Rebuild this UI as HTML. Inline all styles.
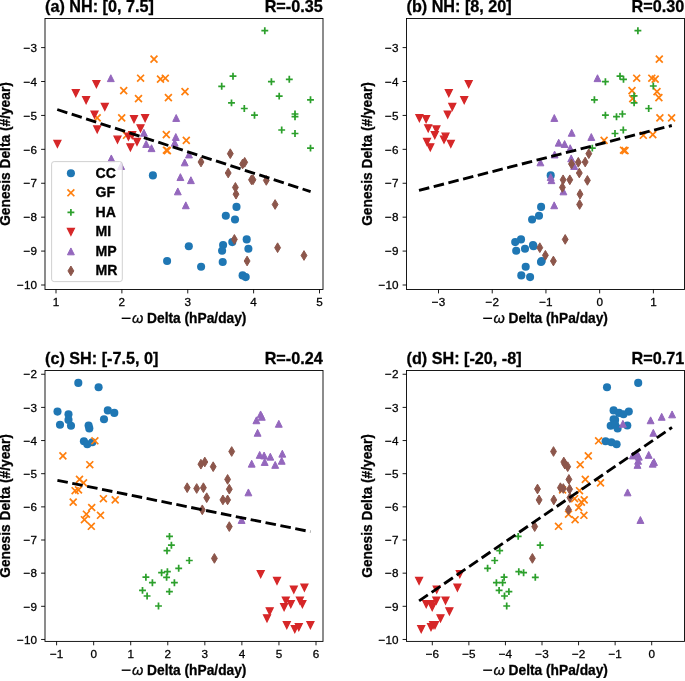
<!DOCTYPE html><html><head><meta charset="utf-8"><style>html,body{margin:0;padding:0;background:#fff;}svg{display:block;}text{font-family:"Liberation Sans",sans-serif;}</style></head><body>
<svg width="685" height="681" viewBox="0 0 685 681">
<rect width="685" height="681" fill="#fff"/>
<g fill="#1f77b4">
<circle cx="152.9" cy="175.4" r="4.05"/>
<circle cx="167.1" cy="261" r="4.05"/>
<circle cx="236.5" cy="206.9" r="4.05"/>
<circle cx="225.8" cy="215.8" r="4.05"/>
<circle cx="235" cy="219.5" r="4.05"/>
<circle cx="246.7" cy="239.4" r="4.05"/>
<circle cx="232.3" cy="242.1" r="4.05"/>
<circle cx="223.1" cy="245" r="4.05"/>
<circle cx="222.1" cy="250.7" r="4.05"/>
<circle cx="248.4" cy="248.7" r="4.05"/>
<circle cx="188.8" cy="246.2" r="4.05"/>
<circle cx="222.7" cy="262" r="4.05"/>
<circle cx="201.1" cy="266.8" r="4.05"/>
<circle cx="242.6" cy="275.4" r="4.05"/>
<circle cx="245.7" cy="277.1" r="4.05"/>
</g>
<g fill="none" stroke="#ff7f0e" stroke-width="1.72">
<path d="M150.56 55.66L157.44 62.54M150.56 62.54L157.44 55.66"/>
<path d="M137.16 74.76L144.04 81.64M137.16 81.64L144.04 74.76"/>
<path d="M157.06 75.66L163.94 82.54M157.06 82.54L163.94 75.66"/>
<path d="M161.86 74.76L168.74 81.64M161.86 81.64L168.74 74.76"/>
<path d="M120.26 87.16L127.14 94.04M120.26 94.04L127.14 87.16"/>
<path d="M135.06 95.16L141.94 102.04M135.06 102.04L141.94 95.16"/>
<path d="M164.96 94.16L171.84 101.04M164.96 101.04L171.84 94.16"/>
<path d="M181.56 88.16L188.44 95.04M181.56 95.04L188.44 88.16"/>
<path d="M118.26 114.46L125.14 121.34M118.26 121.34L125.14 114.46"/>
<path d="M93.76 114.46L100.64 121.34M93.76 121.34L100.64 114.46"/>
<path d="M123.06 131.86L129.94 138.74M123.06 138.74L129.94 131.86"/>
<path d="M162.86 131.16L169.74 138.04M162.86 138.04L169.74 131.16"/>
<path d="M162.96 146.76L169.84 153.64M162.96 153.64L169.84 146.76"/>
<path d="M163.96 147.16L170.84 154.04M163.96 154.04L170.84 147.16"/>
<path d="M182.86 136.96L189.74 143.84M182.86 143.84L189.74 136.96"/>
</g>
<g fill="none" stroke="#2ca02c" stroke-width="1.72">
<path d="M261.36 30.7H268.24M264.8 27.26V34.14"/>
<path d="M229.56 76.2H236.44M233 72.76V79.64"/>
<path d="M218.26 86.3H225.14M221.7 82.86V89.74"/>
<path d="M267.96 81.7H274.84M271.4 78.26V85.14"/>
<path d="M285.86 79.3H292.74M289.3 75.86V82.74"/>
<path d="M275.76 96.1H282.64M279.2 92.66V99.54"/>
<path d="M307.06 99.8H313.94M310.5 96.36V103.24"/>
<path d="M228.06 102.9H234.94M231.5 99.46V106.34"/>
<path d="M240.86 108.5H247.74M244.3 105.06V111.94"/>
<path d="M251.06 115.2H257.94M254.5 111.76V118.64"/>
<path d="M291.56 114H298.44M295 110.56V117.44"/>
<path d="M291.56 116.7H298.44M295 113.26V120.14"/>
<path d="M278.26 130H285.14M281.7 126.56V133.44"/>
<path d="M291.56 133.5H298.44M295 130.06V136.94"/>
<path d="M307.06 148.1H313.94M310.5 144.66V151.54"/>
</g>
<g fill="#d62728" stroke="#d62728" stroke-width="1.3" stroke-linejoin="miter">
<path d="M92.96 80.76L99.84 80.76L96.4 87.64Z"/>
<path d="M72.36 89.76L79.24 89.76L75.8 96.64Z"/>
<path d="M82.66 96.76L89.54 96.76L86.1 103.64Z"/>
<path d="M101.36 103.36L108.24 103.36L104.8 110.24Z"/>
<path d="M91.06 111.06L97.94 111.06L94.5 117.94Z"/>
<path d="M93.76 125.96L100.64 125.96L97.2 132.84Z"/>
<path d="M130.56 115.76L137.44 115.76L134 122.64Z"/>
<path d="M141.66 114.76L148.54 114.76L145.1 121.64Z"/>
<path d="M137.06 124.86L143.94 124.86L140.5 131.74Z"/>
<path d="M114.06 136.16L120.94 136.16L117.5 143.04Z"/>
<path d="M124.96 133.16L131.84 133.16L128.4 140.04Z"/>
<path d="M128.76 131.56L135.64 131.56L132.2 138.44Z"/>
<path d="M133.56 138.36L140.44 138.36L137 145.24Z"/>
<path d="M126.96 143.86L133.84 143.86L130.4 150.74Z"/>
<path d="M53.96 140.46L60.84 140.46L57.4 147.34Z"/>
</g>
<g fill="#9467bd" stroke="#9467bd" stroke-width="1.0" stroke-linejoin="miter">
<path d="M107.36 81.64L114.24 81.64L110.8 74.76Z"/>
<path d="M172.76 121.44L179.64 121.44L176.2 114.56Z"/>
<path d="M140.46 136.24L147.34 136.24L143.9 129.36Z"/>
<path d="M142.76 147.44L149.64 147.44L146.2 140.56Z"/>
<path d="M148.06 151.64L154.94 151.64L151.5 144.76Z"/>
<path d="M172.36 140.44L179.24 140.44L175.8 133.56Z"/>
<path d="M171.26 146.14L178.14 146.14L174.7 139.26Z"/>
<path d="M185.56 157.94L192.44 157.94L189 151.06Z"/>
<path d="M181.26 165.84L188.14 165.84L184.7 158.96Z"/>
<path d="M176.96 180.54L183.84 180.54L180.4 173.66Z"/>
<path d="M187.46 183.64L194.34 183.64L190.9 176.76Z"/>
<path d="M174.36 194.84L181.24 194.84L177.8 187.96Z"/>
<path d="M182.36 208.74L189.24 208.74L185.8 201.86Z"/>
<path d="M107.86 161.84L114.74 161.84L111.3 154.96Z"/>
<path d="M117.66 169.44L124.54 169.44L121.1 162.56Z"/>
</g>
<g fill="#8c564b" stroke="#8c564b" stroke-width="1.0" stroke-linejoin="round">
<path d="M230.3 148.84L233.22 153.7L230.3 158.56L227.38 153.7Z"/>
<path d="M201 157.14L203.92 162L201 166.86L198.08 162Z"/>
<path d="M242.6 159.14L245.52 164L242.6 168.86L239.68 164Z"/>
<path d="M244.7 157.44L247.62 162.3L244.7 167.16L241.78 162.3Z"/>
<path d="M228.2 168.14L231.12 173L228.2 177.86L225.28 173Z"/>
<path d="M251.5 174.94L254.42 179.8L251.5 184.66L248.58 179.8Z"/>
<path d="M253 174.94L255.92 179.8L253 184.66L250.08 179.8Z"/>
<path d="M266.3 175.54L269.22 180.4L266.3 185.26L263.38 180.4Z"/>
<path d="M235.4 182.54L238.32 187.4L235.4 192.26L232.48 187.4Z"/>
<path d="M236 189.34L238.92 194.2L236 199.06L233.08 194.2Z"/>
<path d="M275.1 199.64L278.02 204.5L275.1 209.36L272.18 204.5Z"/>
<path d="M234.4 234.54L237.32 239.4L234.4 244.26L231.48 239.4Z"/>
<path d="M277.6 242.84L280.52 247.7L277.6 252.56L274.68 247.7Z"/>
<path d="M304 250.64L306.92 255.5L304 260.36L301.08 255.5Z"/>
<path d="M247.1 256.14L250.02 261L247.1 265.86L244.18 261Z"/>
</g>
<path d="M57.25 109.5L310.6 191.6" stroke="#000" stroke-width="2.87" stroke-dasharray="10.6 4.57" fill="none"/>
<rect x="45.0" y="18.5" width="278" height="271" fill="none" stroke="#000" stroke-width="0.9"/>
<line x1="56" y1="289.5" x2="56" y2="293.4" stroke="#000" stroke-width="0.9"/>
<line x1="121.88" y1="289.5" x2="121.88" y2="293.4" stroke="#000" stroke-width="0.9"/>
<line x1="187.75" y1="289.5" x2="187.75" y2="293.4" stroke="#000" stroke-width="0.9"/>
<line x1="253.62" y1="289.5" x2="253.62" y2="293.4" stroke="#000" stroke-width="0.9"/>
<line x1="319.5" y1="289.5" x2="319.5" y2="293.4" stroke="#000" stroke-width="0.9"/>
<line x1="41.1" y1="47.6" x2="45" y2="47.6" stroke="#000" stroke-width="0.9"/>
<line x1="41.1" y1="81.51" x2="45" y2="81.51" stroke="#000" stroke-width="0.9"/>
<line x1="41.1" y1="115.43" x2="45" y2="115.43" stroke="#000" stroke-width="0.9"/>
<line x1="41.1" y1="149.34" x2="45" y2="149.34" stroke="#000" stroke-width="0.9"/>
<line x1="41.1" y1="183.26" x2="45" y2="183.26" stroke="#000" stroke-width="0.9"/>
<line x1="41.1" y1="217.17" x2="45" y2="217.17" stroke="#000" stroke-width="0.9"/>
<line x1="41.1" y1="251.09" x2="45" y2="251.09" stroke="#000" stroke-width="0.9"/>
<line x1="41.1" y1="285" x2="45" y2="285" stroke="#000" stroke-width="0.9"/>
<rect x="121.7" y="317.6" width="8.9" height="1.4" fill="#000"/>
<g fill="#1f77b4">
<circle cx="550.7" cy="175.4" r="4.05"/>
<circle cx="541.1" cy="206.9" r="4.05"/>
<circle cx="539" cy="215.8" r="4.05"/>
<circle cx="532.1" cy="219.5" r="4.05"/>
<circle cx="521" cy="239.4" r="4.05"/>
<circle cx="515.2" cy="242.1" r="4.05"/>
<circle cx="533" cy="245" r="4.05"/>
<circle cx="533.5" cy="246.2" r="4.05"/>
<circle cx="525" cy="248.7" r="4.05"/>
<circle cx="516.2" cy="250.7" r="4.05"/>
<circle cx="541.7" cy="261" r="4.05"/>
<circle cx="541" cy="262" r="4.05"/>
<circle cx="525.7" cy="266.8" r="4.05"/>
<circle cx="521.3" cy="275.4" r="4.05"/>
<circle cx="530.1" cy="277.1" r="4.05"/>
</g>
<g fill="none" stroke="#ff7f0e" stroke-width="1.72">
<path d="M655.86 55.66L662.74 62.54M655.86 62.54L662.74 55.66"/>
<path d="M633.26 74.76L640.14 81.64M633.26 81.64L640.14 74.76"/>
<path d="M648.36 74.76L655.24 81.64M648.36 81.64L655.24 74.76"/>
<path d="M651.76 75.66L658.64 82.54M651.76 82.54L658.64 75.66"/>
<path d="M628.56 87.16L635.44 94.04M628.56 94.04L635.44 87.16"/>
<path d="M653.56 88.16L660.44 95.04M653.56 95.04L660.44 88.16"/>
<path d="M629.26 95.16L636.14 102.04M629.26 102.04L636.14 95.16"/>
<path d="M655.46 94.16L662.34 101.04M655.46 101.04L662.34 94.16"/>
<path d="M656.46 114.46L663.34 121.34M656.46 121.34L663.34 114.46"/>
<path d="M668.16 114.46L675.04 121.34M668.16 121.34L675.04 114.46"/>
<path d="M639.86 131.86L646.74 138.74M639.86 138.74L646.74 131.86"/>
<path d="M649.36 131.16L656.24 138.04M649.36 138.04L656.24 131.16"/>
<path d="M600.66 136.96L607.54 143.84M600.66 143.84L607.54 136.96"/>
<path d="M620.06 146.76L626.94 153.64M620.06 153.64L626.94 146.76"/>
<path d="M621.56 147.16L628.44 154.04M621.56 154.04L628.44 147.16"/>
</g>
<g fill="none" stroke="#2ca02c" stroke-width="1.72">
<path d="M634.46 30.7H641.34M637.9 27.26V34.14"/>
<path d="M616.56 76.2H623.44M620 72.76V79.64"/>
<path d="M620.06 79.3H626.94M623.5 75.86V82.74"/>
<path d="M601.96 81.7H608.84M605.4 78.26V85.14"/>
<path d="M649.86 86H656.74M653.3 82.56V89.44"/>
<path d="M590.96 99.8H597.84M594.4 96.36V103.24"/>
<path d="M630.66 95.9H637.54M634.1 92.46V99.34"/>
<path d="M630.66 102.8H637.54M634.1 99.36V106.24"/>
<path d="M645.26 108.5H652.14M648.7 105.06V111.94"/>
<path d="M601.96 115.2H608.84M605.4 111.76V118.64"/>
<path d="M613.06 116.7H619.94M616.5 113.26V120.14"/>
<path d="M618.96 114H625.84M622.4 110.56V117.44"/>
<path d="M619.86 130H626.74M623.3 126.56V133.44"/>
<path d="M611.56 133.5H618.44M615 130.06V136.94"/>
<path d="M588.86 148.1H595.74M592.3 144.66V151.54"/>
</g>
<g fill="#d62728" stroke="#d62728" stroke-width="1.3" stroke-linejoin="miter">
<path d="M465.26 80.76L472.14 80.76L468.7 87.64Z"/>
<path d="M445.36 89.76L452.24 89.76L448.8 96.64Z"/>
<path d="M460.76 96.76L467.64 96.76L464.2 103.64Z"/>
<path d="M448.86 103.36L455.74 103.36L452.3 110.24Z"/>
<path d="M444.26 111.06L451.14 111.06L447.7 117.94Z"/>
<path d="M415.96 114.76L422.84 114.76L419.4 121.64Z"/>
<path d="M422.66 115.76L429.54 115.76L426.1 122.64Z"/>
<path d="M424.76 124.86L431.64 124.86L428.2 131.74Z"/>
<path d="M432.96 125.96L439.84 125.96L436.4 132.84Z"/>
<path d="M431.36 131.56L438.24 131.56L434.8 138.44Z"/>
<path d="M442.06 133.16L448.94 133.16L445.5 140.04Z"/>
<path d="M440.56 136.16L447.44 136.16L444 143.04Z"/>
<path d="M447.36 140.36L454.24 140.36L450.8 147.24Z"/>
<path d="M423.56 138.36L430.44 138.36L427 145.24Z"/>
<path d="M426.86 143.86L433.74 143.86L430.3 150.74Z"/>
</g>
<g fill="#9467bd" stroke="#9467bd" stroke-width="1.0" stroke-linejoin="miter">
<path d="M594.06 81.64L600.94 81.64L597.5 74.76Z"/>
<path d="M550.86 121.44L557.74 121.44L554.3 114.56Z"/>
<path d="M568.26 136.24L575.14 136.24L571.7 129.36Z"/>
<path d="M587.86 140.44L594.74 140.44L591.3 133.56Z"/>
<path d="M555.26 146.14L562.14 146.14L558.7 139.26Z"/>
<path d="M561.16 147.44L568.04 147.44L564.6 140.56Z"/>
<path d="M566.76 151.64L573.64 151.64L570.2 144.76Z"/>
<path d="M551.16 157.94L558.04 157.94L554.6 151.06Z"/>
<path d="M567.76 161.84L574.64 161.84L571.2 154.96Z"/>
<path d="M536.96 165.84L543.84 165.84L540.4 158.96Z"/>
<path d="M570.76 169.44L577.64 169.44L574.2 162.56Z"/>
<path d="M547.26 180.54L554.14 180.54L550.7 173.66Z"/>
<path d="M547.96 183.64L554.84 183.64L551.4 176.76Z"/>
<path d="M559.96 194.84L566.84 194.84L563.4 187.96Z"/>
<path d="M550.76 208.74L557.64 208.74L554.2 201.86Z"/>
</g>
<g fill="#8c564b" stroke="#8c564b" stroke-width="1.0" stroke-linejoin="round">
<path d="M588.8 148.84L591.72 153.7L588.8 158.56L585.88 153.7Z"/>
<path d="M585.2 157.14L588.12 162L585.2 166.86L582.28 162Z"/>
<path d="M578.3 157.44L581.22 162.3L578.3 167.16L575.38 162.3Z"/>
<path d="M571.5 159.14L574.42 164L571.5 168.86L568.58 164Z"/>
<path d="M579.3 168.14L582.22 173L579.3 177.86L576.38 173Z"/>
<path d="M563.1 174.94L566.02 179.8L563.1 184.66L560.18 179.8Z"/>
<path d="M569.8 174.94L572.72 179.8L569.8 184.66L566.88 179.8Z"/>
<path d="M587.4 175.54L590.32 180.4L587.4 185.26L584.48 180.4Z"/>
<path d="M562.4 182.54L565.32 187.4L562.4 192.26L559.48 187.4Z"/>
<path d="M580 189.34L582.92 194.2L580 199.06L577.08 194.2Z"/>
<path d="M579.6 199.64L582.52 204.5L579.6 209.36L576.68 204.5Z"/>
<path d="M565.2 234.54L568.12 239.4L565.2 244.26L562.28 239.4Z"/>
<path d="M539.8 242.84L542.72 247.7L539.8 252.56L536.88 247.7Z"/>
<path d="M545.4 250.44L548.32 255.3L545.4 260.16L542.48 255.3Z"/>
<path d="M553.4 256.14L556.32 261L553.4 265.86L550.48 261Z"/>
</g>
<path d="M419 190.4L671.8 125.5" stroke="#000" stroke-width="2.87" stroke-dasharray="10.6 4.57" fill="none"/>
<rect x="406.5" y="18.5" width="278" height="271" fill="none" stroke="#000" stroke-width="0.9"/>
<line x1="438.5" y1="289.5" x2="438.5" y2="293.4" stroke="#000" stroke-width="0.9"/>
<line x1="492.23" y1="289.5" x2="492.23" y2="293.4" stroke="#000" stroke-width="0.9"/>
<line x1="545.95" y1="289.5" x2="545.95" y2="293.4" stroke="#000" stroke-width="0.9"/>
<line x1="599.67" y1="289.5" x2="599.67" y2="293.4" stroke="#000" stroke-width="0.9"/>
<line x1="653.4" y1="289.5" x2="653.4" y2="293.4" stroke="#000" stroke-width="0.9"/>
<line x1="402.6" y1="47.6" x2="406.5" y2="47.6" stroke="#000" stroke-width="0.9"/>
<line x1="402.6" y1="81.51" x2="406.5" y2="81.51" stroke="#000" stroke-width="0.9"/>
<line x1="402.6" y1="115.43" x2="406.5" y2="115.43" stroke="#000" stroke-width="0.9"/>
<line x1="402.6" y1="149.34" x2="406.5" y2="149.34" stroke="#000" stroke-width="0.9"/>
<line x1="402.6" y1="183.26" x2="406.5" y2="183.26" stroke="#000" stroke-width="0.9"/>
<line x1="402.6" y1="217.17" x2="406.5" y2="217.17" stroke="#000" stroke-width="0.9"/>
<line x1="402.6" y1="251.09" x2="406.5" y2="251.09" stroke="#000" stroke-width="0.9"/>
<line x1="402.6" y1="285" x2="406.5" y2="285" stroke="#000" stroke-width="0.9"/>
<rect x="483.2" y="317.6" width="8.9" height="1.4" fill="#000"/>
<g fill="#1f77b4">
<circle cx="78.3" cy="382.9" r="4.05"/>
<circle cx="98.6" cy="387.3" r="4.05"/>
<circle cx="57.5" cy="411.6" r="4.05"/>
<circle cx="68.5" cy="414.3" r="4.05"/>
<circle cx="68.5" cy="419.9" r="4.05"/>
<circle cx="60" cy="424.8" r="4.05"/>
<circle cx="71" cy="425.8" r="4.05"/>
<circle cx="107.8" cy="410.4" r="4.05"/>
<circle cx="114.3" cy="412.9" r="4.05"/>
<circle cx="104" cy="419.2" r="4.05"/>
<circle cx="88.6" cy="425.5" r="4.05"/>
<circle cx="89.3" cy="428.4" r="4.05"/>
<circle cx="83.9" cy="441.2" r="4.05"/>
<circle cx="87.3" cy="444.2" r="4.05"/>
<circle cx="92.3" cy="442.2" r="4.05"/>
</g>
<g fill="none" stroke="#ff7f0e" stroke-width="1.72">
<path d="M91.46 437.36L98.34 444.24M91.46 444.24L98.34 437.36"/>
<path d="M59.46 452.46L66.34 459.34M59.46 459.34L66.34 452.46"/>
<path d="M86.36 461.26L93.24 468.14M86.36 468.14L93.24 461.26"/>
<path d="M76.06 475.96L82.94 482.84M76.06 482.84L82.94 475.96"/>
<path d="M80.06 479.46L86.94 486.34M80.06 486.34L86.94 479.46"/>
<path d="M71.66 487.26L78.54 494.14M71.66 494.14L78.54 487.26"/>
<path d="M75.06 486.46L81.94 493.34M75.06 493.34L81.94 486.46"/>
<path d="M69.76 498.66L76.64 505.54M69.76 505.54L76.64 498.66"/>
<path d="M99.96 495.26L106.84 502.14M99.96 502.14L106.84 495.26"/>
<path d="M111.76 496.46L118.64 503.34M111.76 503.34L118.64 496.46"/>
<path d="M88.26 504.06L95.14 510.94M88.26 510.94L95.14 504.06"/>
<path d="M82.96 510.76L89.84 517.64M82.96 517.64L89.84 510.76"/>
<path d="M97.06 511.86L103.94 518.74M97.06 518.74L103.94 511.86"/>
<path d="M80.96 516.26L87.84 523.14M80.96 523.14L87.84 516.26"/>
<path d="M87.86 522.86L94.74 529.74M87.86 529.74L94.74 522.86"/>
</g>
<g fill="none" stroke="#2ca02c" stroke-width="1.72">
<path d="M166.06 536.4H172.94M169.5 532.96V539.84"/>
<path d="M167.96 545.2H174.84M171.4 541.76V548.64"/>
<path d="M163.56 550.7H170.44M167 547.26V554.14"/>
<path d="M185.86 560.5H192.74M189.3 557.06V563.94"/>
<path d="M175.26 568.3H182.14M178.7 564.86V571.74"/>
<path d="M158.16 572.7H165.04M161.6 569.26V576.14"/>
<path d="M163.96 571.7H170.84M167.4 568.26V575.14"/>
<path d="M163.16 577.3H170.04M166.6 573.86V580.74"/>
<path d="M142.46 577.2H149.34M145.9 573.76V580.64"/>
<path d="M148.96 582.7H155.84M152.4 579.26V586.14"/>
<path d="M170.96 582.7H177.84M174.4 579.26V586.14"/>
<path d="M139.06 590.4H145.94M142.5 586.96V593.84"/>
<path d="M143.66 596H150.54M147.1 592.56V599.44"/>
<path d="M165.96 591.6H172.84M169.4 588.16V595.04"/>
<path d="M155.06 606H161.94M158.5 602.56V609.44"/>
</g>
<g fill="#d62728" stroke="#d62728" stroke-width="1.3" stroke-linejoin="miter">
<path d="M257.26 570.76L264.14 570.76L260.7 577.64Z"/>
<path d="M273.56 577.46L280.44 577.46L277 584.34Z"/>
<path d="M290.36 586.06L297.24 586.06L293.8 592.94Z"/>
<path d="M300.96 584.06L307.84 584.06L304.4 590.94Z"/>
<path d="M282.36 597.06L289.24 597.06L285.8 603.94Z"/>
<path d="M287.36 600.76L294.24 600.76L290.8 607.64Z"/>
<path d="M280.66 603.76L287.54 603.76L284.1 610.64Z"/>
<path d="M296.46 597.06L303.34 597.06L299.9 603.94Z"/>
<path d="M298.96 600.76L305.84 600.76L302.4 607.64Z"/>
<path d="M266.26 607.86L273.14 607.86L269.7 614.74Z"/>
<path d="M263.56 614.86L270.44 614.86L267 621.74Z"/>
<path d="M283.36 621.56L290.24 621.56L286.8 628.44Z"/>
<path d="M291.36 625.56L298.24 625.56L294.8 632.44Z"/>
<path d="M295.36 623.76L302.24 623.76L298.8 630.64Z"/>
<path d="M306.96 621.56L313.84 621.56L310.4 628.44Z"/>
</g>
<g fill="#9467bd" stroke="#9467bd" stroke-width="1.0" stroke-linejoin="miter">
<path d="M257.16 417.84L264.04 417.84L260.6 410.96Z"/>
<path d="M258.36 420.24L265.24 420.24L261.8 413.36Z"/>
<path d="M252.96 423.74L259.84 423.74L256.4 416.86Z"/>
<path d="M275.36 427.24L282.24 427.24L278.8 420.36Z"/>
<path d="M254.16 436.24L261.04 436.24L257.6 429.36Z"/>
<path d="M256.26 458.34L263.14 458.34L259.7 451.46Z"/>
<path d="M260.66 458.94L267.54 458.94L264.1 452.06Z"/>
<path d="M261.26 465.44L268.14 465.44L264.7 458.56Z"/>
<path d="M266.86 460.14L273.74 460.14L270.3 453.26Z"/>
<path d="M278.86 457.14L285.74 457.14L282.3 450.26Z"/>
<path d="M278.26 464.24L285.14 464.24L281.7 457.36Z"/>
<path d="M248.26 467.14L255.14 467.14L251.7 460.26Z"/>
<path d="M271.76 468.34L278.64 468.34L275.2 461.46Z"/>
<path d="M244.96 495.84L251.84 495.84L248.4 488.96Z"/>
<path d="M238.16 523.44L245.04 523.44L241.6 516.56Z"/>
</g>
<g fill="#8c564b" stroke="#8c564b" stroke-width="1.0" stroke-linejoin="round">
<path d="M231.7 446.64L234.62 451.5L231.7 456.36L228.78 451.5Z"/>
<path d="M200.9 459.34L203.82 464.2L200.9 469.06L197.98 464.2Z"/>
<path d="M204.8 457.14L207.72 462L204.8 466.86L201.88 462Z"/>
<path d="M213.2 461.84L216.12 466.7L213.2 471.56L210.28 466.7Z"/>
<path d="M227.6 474.54L230.52 479.4L227.6 484.26L224.68 479.4Z"/>
<path d="M229.3 484.34L232.22 489.2L229.3 494.06L226.38 489.2Z"/>
<path d="M187.2 482.84L190.12 487.7L187.2 492.56L184.28 487.7Z"/>
<path d="M196.7 483.64L199.62 488.5L196.7 493.36L193.78 488.5Z"/>
<path d="M203.4 482.84L206.32 487.7L203.4 492.56L200.48 487.7Z"/>
<path d="M206.7 492.84L209.62 497.7L206.7 502.56L203.78 497.7Z"/>
<path d="M222.9 495.04L225.82 499.9L222.9 504.76L219.98 499.9Z"/>
<path d="M227.6 495.04L230.52 499.9L227.6 504.76L224.68 499.9Z"/>
<path d="M202.3 504.94L205.22 509.8L202.3 514.66L199.38 509.8Z"/>
<path d="M229.3 521.74L232.22 526.6L229.3 531.46L226.38 526.6Z"/>
<path d="M214.4 553.54L217.32 558.4L214.4 563.26L211.48 558.4Z"/>
</g>
<path d="M57.4 480.3L310.4 531.7" stroke="#000" stroke-width="2.87" stroke-dasharray="10.6 4.57" fill="none"/>
<rect x="45.0" y="370.5" width="278" height="270.9" fill="none" stroke="#000" stroke-width="0.9"/>
<line x1="56.6" y1="641.4" x2="56.6" y2="645.3" stroke="#000" stroke-width="0.9"/>
<line x1="93.66" y1="641.4" x2="93.66" y2="645.3" stroke="#000" stroke-width="0.9"/>
<line x1="130.71" y1="641.4" x2="130.71" y2="645.3" stroke="#000" stroke-width="0.9"/>
<line x1="167.77" y1="641.4" x2="167.77" y2="645.3" stroke="#000" stroke-width="0.9"/>
<line x1="204.83" y1="641.4" x2="204.83" y2="645.3" stroke="#000" stroke-width="0.9"/>
<line x1="241.89" y1="641.4" x2="241.89" y2="645.3" stroke="#000" stroke-width="0.9"/>
<line x1="278.94" y1="641.4" x2="278.94" y2="645.3" stroke="#000" stroke-width="0.9"/>
<line x1="316" y1="641.4" x2="316" y2="645.3" stroke="#000" stroke-width="0.9"/>
<line x1="41.1" y1="374.25" x2="45" y2="374.25" stroke="#000" stroke-width="0.9"/>
<line x1="41.1" y1="407.4" x2="45" y2="407.4" stroke="#000" stroke-width="0.9"/>
<line x1="41.1" y1="440.55" x2="45" y2="440.55" stroke="#000" stroke-width="0.9"/>
<line x1="41.1" y1="473.7" x2="45" y2="473.7" stroke="#000" stroke-width="0.9"/>
<line x1="41.1" y1="506.86" x2="45" y2="506.86" stroke="#000" stroke-width="0.9"/>
<line x1="41.1" y1="540.01" x2="45" y2="540.01" stroke="#000" stroke-width="0.9"/>
<line x1="41.1" y1="573.16" x2="45" y2="573.16" stroke="#000" stroke-width="0.9"/>
<line x1="41.1" y1="606.31" x2="45" y2="606.31" stroke="#000" stroke-width="0.9"/>
<line x1="41.1" y1="639.46" x2="45" y2="639.46" stroke="#000" stroke-width="0.9"/>
<rect x="121.7" y="669.5" width="8.9" height="1.4" fill="#000"/>
<g fill="#1f77b4">
<circle cx="638.2" cy="382.9" r="4.05"/>
<circle cx="607" cy="387.3" r="4.05"/>
<circle cx="613.6" cy="410.4" r="4.05"/>
<circle cx="619.1" cy="412.9" r="4.05"/>
<circle cx="628.8" cy="411.6" r="4.05"/>
<circle cx="623.5" cy="414.3" r="4.05"/>
<circle cx="613.6" cy="419.2" r="4.05"/>
<circle cx="615.1" cy="419.9" r="4.05"/>
<circle cx="610.7" cy="425.8" r="4.05"/>
<circle cx="615.1" cy="424.8" r="4.05"/>
<circle cx="617.6" cy="428.4" r="4.05"/>
<circle cx="627.3" cy="425.5" r="4.05"/>
<circle cx="605.6" cy="441.2" r="4.05"/>
<circle cx="611.4" cy="442.2" r="4.05"/>
<circle cx="616.6" cy="444.2" r="4.05"/>
</g>
<g fill="none" stroke="#ff7f0e" stroke-width="1.72">
<path d="M595.16 437.36L602.04 444.24M595.16 444.24L602.04 437.36"/>
<path d="M584.86 452.46L591.74 459.34M584.86 459.34L591.74 452.46"/>
<path d="M576.76 461.26L583.64 468.14M576.76 468.14L583.64 461.26"/>
<path d="M581.86 475.96L588.74 482.84M581.86 482.84L588.74 475.96"/>
<path d="M597.06 479.46L603.94 486.34M597.06 486.34L603.94 479.46"/>
<path d="M576.06 487.26L582.94 494.14M576.06 494.14L582.94 487.26"/>
<path d="M559.16 486.46L566.04 493.34M559.16 493.34L566.04 486.46"/>
<path d="M571.16 495.26L578.04 502.14M571.16 502.14L578.04 495.26"/>
<path d="M580.76 496.46L587.64 503.34M580.76 503.34L587.64 496.46"/>
<path d="M577.96 498.66L584.84 505.54M577.96 505.54L584.84 498.66"/>
<path d="M575.26 504.06L582.14 510.94M575.26 510.94L582.14 504.06"/>
<path d="M565.06 510.76L571.94 517.64M565.06 517.64L571.94 510.76"/>
<path d="M580.46 511.86L587.34 518.74M580.46 518.74L587.34 511.86"/>
<path d="M571.66 516.26L578.54 523.14M571.66 523.14L578.54 516.26"/>
<path d="M555.06 522.86L561.94 529.74M555.06 529.74L561.94 522.86"/>
</g>
<g fill="none" stroke="#2ca02c" stroke-width="1.72">
<path d="M514.76 536.4H521.64M518.2 532.96V539.84"/>
<path d="M536.76 545.2H543.64M540.2 541.76V548.64"/>
<path d="M496.26 550.7H503.14M499.7 547.26V554.14"/>
<path d="M491.26 560.5H498.14M494.7 557.06V563.94"/>
<path d="M484.16 568.3H491.04M487.6 564.86V571.74"/>
<path d="M515.36 571.7H522.24M518.8 568.26V575.14"/>
<path d="M520.16 572.7H527.04M523.6 569.26V576.14"/>
<path d="M531.86 577.3H538.74M535.3 573.86V580.74"/>
<path d="M500.66 577.2H507.54M504.1 573.76V580.64"/>
<path d="M492.96 582.7H499.84M496.4 579.26V586.14"/>
<path d="M499.16 582.7H506.04M502.6 579.26V586.14"/>
<path d="M495.66 590.4H502.54M499.1 586.96V593.84"/>
<path d="M505.46 591.6H512.34M508.9 588.16V595.04"/>
<path d="M501.06 596H507.94M504.5 592.56V599.44"/>
<path d="M503.26 606H510.14M506.7 602.56V609.44"/>
</g>
<g fill="#d62728" stroke="#d62728" stroke-width="1.3" stroke-linejoin="miter">
<path d="M456.36 570.76L463.24 570.76L459.8 577.64Z"/>
<path d="M415.66 577.46L422.54 577.46L419.1 584.34Z"/>
<path d="M453.96 584.06L460.84 584.06L457.4 590.94Z"/>
<path d="M433.26 586.06L440.14 586.06L436.7 592.94Z"/>
<path d="M432.86 597.06L439.74 597.06L436.3 603.94Z"/>
<path d="M442.06 597.06L448.94 597.06L445.5 603.94Z"/>
<path d="M422.76 600.76L429.64 600.76L426.2 607.64Z"/>
<path d="M428.16 600.76L435.04 600.76L431.6 607.64Z"/>
<path d="M428.76 603.76L435.64 603.76L432.2 610.64Z"/>
<path d="M445.96 607.86L452.84 607.86L449.4 614.74Z"/>
<path d="M437.06 614.86L443.94 614.86L440.5 621.74Z"/>
<path d="M429.66 621.56L436.54 621.56L433.1 628.44Z"/>
<path d="M427.56 623.76L434.44 623.76L431 630.64Z"/>
<path d="M431.56 621.56L438.44 621.56L435 628.44Z"/>
<path d="M417.76 625.56L424.64 625.56L421.2 632.44Z"/>
</g>
<g fill="#9467bd" stroke="#9467bd" stroke-width="1.0" stroke-linejoin="miter">
<path d="M668.66 417.84L675.54 417.84L672.1 410.96Z"/>
<path d="M658.26 420.24L665.14 420.24L661.7 413.36Z"/>
<path d="M647.16 423.74L654.04 423.74L650.6 416.86Z"/>
<path d="M619.46 427.24L626.34 427.24L622.9 420.36Z"/>
<path d="M649.86 436.24L656.74 436.24L653.3 429.36Z"/>
<path d="M645.26 458.34L652.14 458.34L648.7 451.46Z"/>
<path d="M629.36 458.94L636.24 458.94L632.8 452.06Z"/>
<path d="M635.36 460.14L642.24 460.14L638.8 453.26Z"/>
<path d="M634.66 464.24L641.54 464.24L638.1 457.36Z"/>
<path d="M650.56 465.44L657.44 465.44L654 458.56Z"/>
<path d="M649.26 467.14L656.14 467.14L652.7 460.26Z"/>
<path d="M634.06 468.34L640.94 468.34L637.5 461.46Z"/>
<path d="M624.16 495.84L631.04 495.84L627.6 488.96Z"/>
<path d="M636.96 523.44L643.84 523.44L640.4 516.56Z"/>
<path d="M633.56 457.14L640.44 457.14L637 450.26Z"/>
</g>
<g fill="#8c564b" stroke="#8c564b" stroke-width="1.0" stroke-linejoin="round">
<path d="M553.5 446.64L556.42 451.5L553.5 456.36L550.58 451.5Z"/>
<path d="M563.8 457.14L566.72 462L563.8 466.86L560.88 462Z"/>
<path d="M564.8 459.34L567.72 464.2L564.8 469.06L561.88 464.2Z"/>
<path d="M567.7 461.84L570.62 466.7L567.7 471.56L564.78 466.7Z"/>
<path d="M568.9 474.54L571.82 479.4L568.9 484.26L565.98 479.4Z"/>
<path d="M537.5 484.14L540.42 489L537.5 493.86L534.58 489Z"/>
<path d="M560.4 482.84L563.32 487.7L560.4 492.56L557.48 487.7Z"/>
<path d="M563.3 483.64L566.22 488.5L563.3 493.36L560.38 488.5Z"/>
<path d="M569.6 484.34L572.52 489.2L569.6 494.06L566.68 489.2Z"/>
<path d="M539.1 495.04L542.02 499.9L539.1 504.76L536.18 499.9Z"/>
<path d="M553.8 495.04L556.72 499.9L553.8 504.76L550.88 499.9Z"/>
<path d="M569.9 492.84L572.82 497.7L569.9 502.56L566.98 497.7Z"/>
<path d="M568.5 504.94L571.42 509.8L568.5 514.66L565.58 509.8Z"/>
<path d="M534.7 521.74L537.62 526.6L534.7 531.46L531.78 526.6Z"/>
<path d="M532.4 553.54L535.32 558.4L532.4 563.26L529.48 558.4Z"/>
</g>
<path d="M419.1 600.9L672 427.4" stroke="#000" stroke-width="2.87" stroke-dasharray="10.6 4.57" fill="none"/>
<rect x="406.5" y="370.5" width="278" height="270.9" fill="none" stroke="#000" stroke-width="0.9"/>
<line x1="432.3" y1="641.4" x2="432.3" y2="645.3" stroke="#000" stroke-width="0.9"/>
<line x1="468.87" y1="641.4" x2="468.87" y2="645.3" stroke="#000" stroke-width="0.9"/>
<line x1="505.43" y1="641.4" x2="505.43" y2="645.3" stroke="#000" stroke-width="0.9"/>
<line x1="542" y1="641.4" x2="542" y2="645.3" stroke="#000" stroke-width="0.9"/>
<line x1="578.57" y1="641.4" x2="578.57" y2="645.3" stroke="#000" stroke-width="0.9"/>
<line x1="615.13" y1="641.4" x2="615.13" y2="645.3" stroke="#000" stroke-width="0.9"/>
<line x1="651.7" y1="641.4" x2="651.7" y2="645.3" stroke="#000" stroke-width="0.9"/>
<line x1="402.6" y1="374.25" x2="406.5" y2="374.25" stroke="#000" stroke-width="0.9"/>
<line x1="402.6" y1="407.4" x2="406.5" y2="407.4" stroke="#000" stroke-width="0.9"/>
<line x1="402.6" y1="440.55" x2="406.5" y2="440.55" stroke="#000" stroke-width="0.9"/>
<line x1="402.6" y1="473.7" x2="406.5" y2="473.7" stroke="#000" stroke-width="0.9"/>
<line x1="402.6" y1="506.86" x2="406.5" y2="506.86" stroke="#000" stroke-width="0.9"/>
<line x1="402.6" y1="540.01" x2="406.5" y2="540.01" stroke="#000" stroke-width="0.9"/>
<line x1="402.6" y1="573.16" x2="406.5" y2="573.16" stroke="#000" stroke-width="0.9"/>
<line x1="402.6" y1="606.31" x2="406.5" y2="606.31" stroke="#000" stroke-width="0.9"/>
<line x1="402.6" y1="639.46" x2="406.5" y2="639.46" stroke="#000" stroke-width="0.9"/>
<rect x="483.2" y="669.5" width="8.9" height="1.4" fill="#000"/>
<rect x="51.6" y="161.6" width="70.7" height="120" rx="2.5" fill="#fff" fill-opacity="0.8" stroke="#ccc" stroke-width="0.9"/>
<g fill="#1f77b4">
<circle cx="70.9" cy="173.3" r="4.05"/>
</g>
<g fill="none" stroke="#ff7f0e" stroke-width="1.72">
<path d="M67.46 189.38L74.34 196.26M67.46 196.26L74.34 189.38"/>
</g>
<g fill="none" stroke="#2ca02c" stroke-width="1.72">
<path d="M67.46 212.34H74.34M70.9 208.9V215.78"/>
</g>
<g fill="#d62728" stroke="#d62728" stroke-width="1.3" stroke-linejoin="miter">
<path d="M67.46 228.42L74.34 228.42L70.9 235.3Z"/>
</g>
<g fill="#9467bd" stroke="#9467bd" stroke-width="1.0" stroke-linejoin="miter">
<path d="M67.46 254.82L74.34 254.82L70.9 247.94Z"/>
</g>
<g fill="#8c564b" stroke="#8c564b" stroke-width="1.0" stroke-linejoin="round">
<path d="M70.9 266.04L73.82 270.9L70.9 275.76L67.98 270.9Z"/>
</g>
<g style="opacity:0.999" stroke="#000" stroke-width="0.3">
<text x="56" y="305.6" font-size="11.7" text-anchor="middle">1</text>
<text x="121.88" y="305.6" font-size="11.7" text-anchor="middle">2</text>
<text x="187.75" y="305.6" font-size="11.7" text-anchor="middle">3</text>
<text x="253.62" y="305.6" font-size="11.7" text-anchor="middle">4</text>
<text x="319.5" y="305.6" font-size="11.7" text-anchor="middle">5</text>
<text x="36.9" y="51.8" font-size="11.7" text-anchor="end">−3</text>
<text x="36.9" y="85.71" font-size="11.7" text-anchor="end">−4</text>
<text x="36.9" y="119.63" font-size="11.7" text-anchor="end">−5</text>
<text x="36.9" y="153.54" font-size="11.7" text-anchor="end">−6</text>
<text x="36.9" y="187.46" font-size="11.7" text-anchor="end">−7</text>
<text x="36.9" y="221.37" font-size="11.7" text-anchor="end">−8</text>
<text x="36.9" y="255.29" font-size="11.7" text-anchor="end">−9</text>
<text x="36.9" y="289.2" font-size="11.7" text-anchor="end">−10</text>
<text x="45" y="11.8" font-size="16.2" font-weight="bold">(a) NH: [0, 7.5]</text>
<text x="322.7" y="11.8" font-size="16.2" font-weight="bold" text-anchor="end">R=-0.35</text>
<text x="132.1" y="322.7" font-size="14.5" font-style="italic">ω</text>
<text x="147.1" y="322.6" font-size="13.75" font-weight="bold">Delta (hPa/day)</text>
<text transform="translate(10 154) rotate(-90)" font-size="13.75" font-weight="bold" text-anchor="middle">Genesis Delta (#/year)</text>
<text x="438.5" y="305.6" font-size="11.7" text-anchor="middle">−3</text>
<text x="492.23" y="305.6" font-size="11.7" text-anchor="middle">−2</text>
<text x="545.95" y="305.6" font-size="11.7" text-anchor="middle">−1</text>
<text x="599.67" y="305.6" font-size="11.7" text-anchor="middle">0</text>
<text x="653.4" y="305.6" font-size="11.7" text-anchor="middle">1</text>
<text x="398.4" y="51.8" font-size="11.7" text-anchor="end">−3</text>
<text x="398.4" y="85.71" font-size="11.7" text-anchor="end">−4</text>
<text x="398.4" y="119.63" font-size="11.7" text-anchor="end">−5</text>
<text x="398.4" y="153.54" font-size="11.7" text-anchor="end">−6</text>
<text x="398.4" y="187.46" font-size="11.7" text-anchor="end">−7</text>
<text x="398.4" y="221.37" font-size="11.7" text-anchor="end">−8</text>
<text x="398.4" y="255.29" font-size="11.7" text-anchor="end">−9</text>
<text x="398.4" y="289.2" font-size="11.7" text-anchor="end">−10</text>
<text x="406.5" y="11.8" font-size="16.2" font-weight="bold">(b) NH: [8, 20]</text>
<text x="684.2" y="11.8" font-size="16.2" font-weight="bold" text-anchor="end">R=0.30</text>
<text x="493.6" y="322.7" font-size="14.5" font-style="italic">ω</text>
<text x="508.6" y="322.6" font-size="13.75" font-weight="bold">Delta (hPa/day)</text>
<text transform="translate(371.5 154) rotate(-90)" font-size="13.75" font-weight="bold" text-anchor="middle">Genesis Delta (#/year)</text>
<text x="56.6" y="657.5" font-size="11.7" text-anchor="middle">−1</text>
<text x="93.66" y="657.5" font-size="11.7" text-anchor="middle">0</text>
<text x="130.71" y="657.5" font-size="11.7" text-anchor="middle">1</text>
<text x="167.77" y="657.5" font-size="11.7" text-anchor="middle">2</text>
<text x="204.83" y="657.5" font-size="11.7" text-anchor="middle">3</text>
<text x="241.89" y="657.5" font-size="11.7" text-anchor="middle">4</text>
<text x="278.94" y="657.5" font-size="11.7" text-anchor="middle">5</text>
<text x="316" y="657.5" font-size="11.7" text-anchor="middle">6</text>
<text x="36.9" y="378.45" font-size="11.7" text-anchor="end">−2</text>
<text x="36.9" y="411.6" font-size="11.7" text-anchor="end">−3</text>
<text x="36.9" y="444.75" font-size="11.7" text-anchor="end">−4</text>
<text x="36.9" y="477.9" font-size="11.7" text-anchor="end">−5</text>
<text x="36.9" y="511.06" font-size="11.7" text-anchor="end">−6</text>
<text x="36.9" y="544.21" font-size="11.7" text-anchor="end">−7</text>
<text x="36.9" y="577.36" font-size="11.7" text-anchor="end">−8</text>
<text x="36.9" y="610.51" font-size="11.7" text-anchor="end">−9</text>
<text x="36.9" y="643.66" font-size="11.7" text-anchor="end">−10</text>
<text x="45" y="363.8" font-size="16.2" font-weight="bold">(c) SH: [-7.5, 0]</text>
<text x="322.7" y="363.8" font-size="16.2" font-weight="bold" text-anchor="end">R=-0.24</text>
<text x="132.1" y="674.6" font-size="14.5" font-style="italic">ω</text>
<text x="147.1" y="674.5" font-size="13.75" font-weight="bold">Delta (hPa/day)</text>
<text transform="translate(10 505.95) rotate(-90)" font-size="13.75" font-weight="bold" text-anchor="middle">Genesis Delta (#/year)</text>
<text x="432.3" y="657.5" font-size="11.7" text-anchor="middle">−6</text>
<text x="468.87" y="657.5" font-size="11.7" text-anchor="middle">−5</text>
<text x="505.43" y="657.5" font-size="11.7" text-anchor="middle">−4</text>
<text x="542" y="657.5" font-size="11.7" text-anchor="middle">−3</text>
<text x="578.57" y="657.5" font-size="11.7" text-anchor="middle">−2</text>
<text x="615.13" y="657.5" font-size="11.7" text-anchor="middle">−1</text>
<text x="651.7" y="657.5" font-size="11.7" text-anchor="middle">0</text>
<text x="398.4" y="378.45" font-size="11.7" text-anchor="end">−2</text>
<text x="398.4" y="411.6" font-size="11.7" text-anchor="end">−3</text>
<text x="398.4" y="444.75" font-size="11.7" text-anchor="end">−4</text>
<text x="398.4" y="477.9" font-size="11.7" text-anchor="end">−5</text>
<text x="398.4" y="511.06" font-size="11.7" text-anchor="end">−6</text>
<text x="398.4" y="544.21" font-size="11.7" text-anchor="end">−7</text>
<text x="398.4" y="577.36" font-size="11.7" text-anchor="end">−8</text>
<text x="398.4" y="610.51" font-size="11.7" text-anchor="end">−9</text>
<text x="398.4" y="643.66" font-size="11.7" text-anchor="end">−10</text>
<text x="406.5" y="363.8" font-size="16.2" font-weight="bold">(d) SH: [-20, -8]</text>
<text x="684.2" y="363.8" font-size="16.2" font-weight="bold" text-anchor="end">R=0.71</text>
<text x="493.6" y="674.6" font-size="14.5" font-style="italic">ω</text>
<text x="508.6" y="674.5" font-size="13.75" font-weight="bold">Delta (hPa/day)</text>
<text transform="translate(371.5 505.95) rotate(-90)" font-size="13.75" font-weight="bold" text-anchor="middle">Genesis Delta (#/year)</text>
<text x="95.5" y="177.6" font-size="14.1" font-weight="bold">CC</text>
<text x="95.5" y="197.12" font-size="14.1" font-weight="bold">GF</text>
<text x="95.5" y="216.64" font-size="14.1" font-weight="bold">HA</text>
<text x="95.5" y="236.16" font-size="14.1" font-weight="bold">MI</text>
<text x="95.5" y="255.68" font-size="14.1" font-weight="bold">MP</text>
<text x="95.5" y="275.2" font-size="14.1" font-weight="bold">MR</text>
</g>
</svg></body></html>
